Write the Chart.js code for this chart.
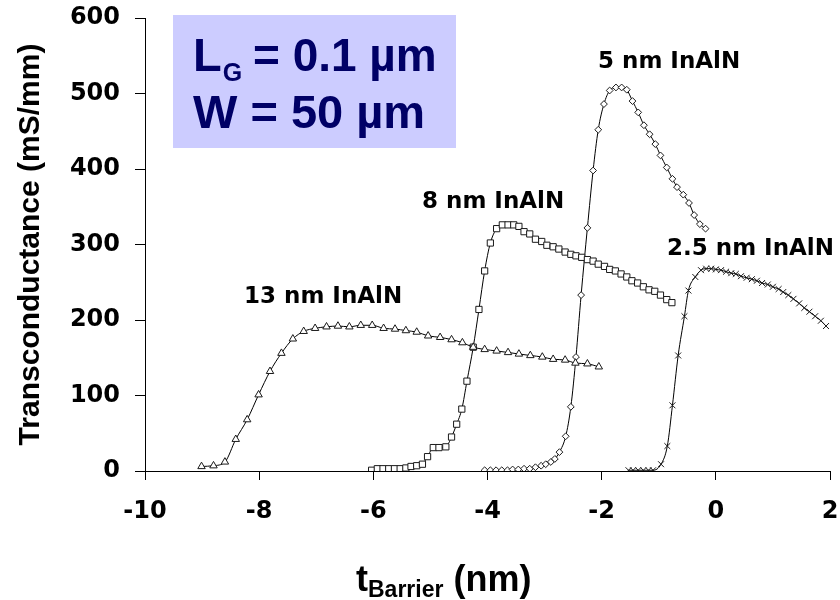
<!DOCTYPE html>
<html>
<head>
<meta charset="utf-8">
<script src="https://cdn.jsdelivr.net/npm/chart.js@4.4.1/dist/chart.umd.min.js"></script>
<style>
  html, body { margin: 0; padding: 0; background: #ffffff; }
  #c { display: block; }
</style>
</head>
<body>
<canvas id="c" width="840" height="600"></canvas>
<script>
// ---- Data ----
const xTicks = [-10, -8, -6, -4, -2, 0, 2];
const yTicks = [0, 100, 200, 300, 400, 500, 600];

const seriesNames = ["13 nm InAlN", "8 nm InAlN", "5 nm InAlN", "2.5 nm InAlN"];

const x13 = [-9.01,-8.80,-8.60,-8.41,-8.21,-8.01,-7.81,-7.61,-7.41,-7.22,-7.02,-6.82,-6.62,-6.42,-6.22,-6.02,-5.82,-5.62,-5.43,-5.24,-5.04,-4.83,-4.63,-4.44,-4.25,-4.05,-3.84,-3.64,-3.45,-3.25,-3.04,-2.85,-2.64,-2.46,-2.25,-2.05];
const y13 = [6,7,12,42,68,101,132,156,175,185,189,191,192,191,193,193,189,188,186,184,179,177,174,170,164,161,159,157,155,153,151,148,147,143,142,138];

const x8 = [-6.03,-5.93,-5.83,-5.73,-5.63,-5.53,-5.43,-5.34,-5.24,-5.14,-5.05,-4.95,-4.85,-4.73,-4.63,-4.54,-4.45,-4.36,-4.25,-4.15,
            -4.05,-3.95,-3.84,-3.74,-3.64,-3.54,-3.45,-3.36,-3.26,-3.16,-3.05,-2.96,-2.85,-2.75,-2.64,-2.54,-2.45,-2.35,-2.25,-2.15,-2.06,-1.95,-1.86,-1.76,-1.66,-1.56,-1.47,-1.37,-1.27,-1.17,-1.07,-0.97,-0.86,-0.77];
const y8 = [1,3,3,3,3,3,4,6,7,9,19,31,31,32,45,62,82,119,164,214,
            265,302,321,326,326,326,324,317,314,307,304,299,297,294,290,287,285,283,280,278,274,271,267,265,261,257,252,249,244,240,238,233,227,223];

const x5 = [-4.05,-3.95,-3.85,-3.75,-3.65,-3.56,-3.46,-3.36,-3.26,-3.16,-3.06,-2.98,-2.89,-2.82,-2.74,-2.63,-2.54,-2.45,-2.36,-2.25,-2.15,-2.06,-1.96,-1.86,-1.75,-1.65,-1.56,-1.46,-1.36,-1.26,-1.16,-1.06,-0.97,-0.86,-0.76,-0.68,-0.57,-0.47,-0.38,-0.28,-0.18];
const y5 = [1,1,1,1,1,2,2,3,3,5,7,9,12,16,25,46,85,151,233,322,398,452,486,504,508,508,505,490,475,458,446,433,418,402,387,376,366,355,339,327,321];

const x25 = [-1.53,-1.45,-1.36,-1.27,-1.18,-1.10,-0.96,-0.85,-0.76,-0.66,-0.55,-0.48,-0.36,-0.26,-0.17,-0.08,0.00,0.09,0.18,0.27,0.35,0.44,0.54,0.63,0.72,0.81,0.91,1.00,1.10,1.18,1.27,1.36,1.46,1.55,1.64,1.74,1.84,1.93];
const y25 = [1,1,1,1,1,1,9,33,87,153,205,239,257,266,268,268,267,266,264,262,261,258,256,254,252,249,247,244,241,237,233,228,222,216,211,205,199,192];

const boxLine1 = ["L", "G", "= 0.1 µm"];
const boxLine2 = "W = 50 µm";
const xTitleMain = "t";
const xTitleSub = "Barrier";
const xTitleRest = " (nm)";
const yTitle = "Transconductance (mS/mm)";

// ---- Build chart ----
function pts(xs, ys) { return xs.map((x, i) => ({ x: x, y: ys[i] })); }

function ds(label, xs, ys, style, radius) {
  return {
    label: label,
    data: pts(xs, ys),
    borderColor: '#000000',
    borderWidth: 1,
    cubicInterpolationMode: 'monotone',
    pointStyle: style,
    pointRadius: radius,
    pointHoverRadius: radius,
    pointBackgroundColor: '#ffffff',
    pointBorderColor: '#1a1a1a',
    pointBorderWidth: 1,
    fill: false
  };
}

const TICK_FONT = { family: "'DejaVu Sans', sans-serif", weight: 'bold', size: 24 };

const overlay = {
  id: 'overlay',
  afterDraw(chart) {
    const ctx = chart.ctx;
    ctx.save();
    // annotation box
    ctx.fillStyle = '#CCCCFF';
    ctx.fillRect(173, 15, 283, 133);
    ctx.fillStyle = '#000066';
    ctx.textBaseline = 'alphabetic';
    ctx.textAlign = 'left';
    ctx.font = "bold 47px 'Liberation Sans', Arial, sans-serif";
    ctx.fillText(boxLine1[0], 193, 71);
    const lw = ctx.measureText(boxLine1[0]).width;
    ctx.font = "bold 25px 'Liberation Sans', Arial, sans-serif";
    ctx.fillText(boxLine1[1], 193 + lw + 1, 81);
    ctx.font = "bold 46px 'Liberation Sans', Arial, sans-serif";
    ctx.fillText(boxLine1[2], 253, 71);
    ctx.font = "bold 47px 'Liberation Sans', Arial, sans-serif";
    ctx.fillText(boxLine2, 193, 128);

    // series labels
    ctx.fillStyle = '#000000';
    ctx.font = "bold 23px 'DejaVu Sans', sans-serif";
    ctx.fillText(seriesNames[2], 598, 68);
    ctx.fillText(seriesNames[1], 422, 208);
    ctx.fillText(seriesNames[3], 667, 255);
    ctx.fillText(seriesNames[0], 244, 303);

    // x-axis title with subscript
    let x = 356;
    ctx.font = "bold 36px 'Liberation Sans', Arial, sans-serif";
    ctx.fillText(xTitleMain, x, 591);
    x += ctx.measureText(xTitleMain).width;
    ctx.font = "bold 23px 'Liberation Sans', Arial, sans-serif";
    ctx.fillText(xTitleSub, x, 597);
    x += ctx.measureText(xTitleSub).width;
    ctx.font = "bold 36px 'Liberation Sans', Arial, sans-serif";
    ctx.fillText(xTitleRest, x, 591);
    ctx.restore();
  }
};

new Chart(document.getElementById('c'), {
  type: 'line',
  data: {
    datasets: [
      ds(seriesNames[0], x13, y13, 'triangle', 4.3),
      ds(seriesNames[1], x8, y8, 'rect', 4.4),
      ds(seriesNames[2], x5, y5, 'rectRot', 3.4),
      ds(seriesNames[3], x25, y25, 'crossRot', 4.2)
    ]
  },
  options: {
    responsive: false,
    animation: false,
    layout: { padding: { top: 18, right: 10, left: 0, bottom: 0 } },
    plugins: { legend: { display: false }, tooltip: { enabled: false } },
    scales: {
      x: {
        type: 'linear',
        min: -10, max: 2,
        afterBuildTicks(scale) { scale.ticks = xTicks.map(v => ({ value: v })); },
        afterFit(scale) {
          scale.height = 129;
          scale.paddingLeft = 0; scale.paddingRight = 0;
        },
        grid: { drawOnChartArea: false, drawTicks: true, tickLength: 9, tickColor: '#000000', lineWidth: 1 },
        border: { display: true, color: '#000000', width: 1 },
        ticks: { color: '#000000', font: TICK_FONT, padding: 17, maxRotation: 0, autoSkip: false },
        title: { display: false }
      },
      y: {
        type: 'linear',
        min: 0, max: 600,
        afterBuildTicks(scale) { scale.ticks = yTicks.map(v => ({ value: v })); },
        afterFit(scale) {
          scale.width = 145;
          scale.paddingTop = 0; scale.paddingBottom = 0;
        },
        grid: { drawOnChartArea: false, drawTicks: true, tickLength: 10, tickColor: '#000000', lineWidth: 1 },
        border: { display: true, color: '#000000', width: 1 },
        ticks: { color: '#000000', font: TICK_FONT, padding: 15, autoSkip: false },
        title: {
          display: true,
          text: yTitle,
          color: '#000000',
          font: { family: "'Liberation Sans', Arial, sans-serif", weight: 'bold', size: 30 },
          padding: { top: 13, bottom: 0 }
        }
      }
    }
  },
  plugins: [overlay]
});
</script>
</body>
</html>
